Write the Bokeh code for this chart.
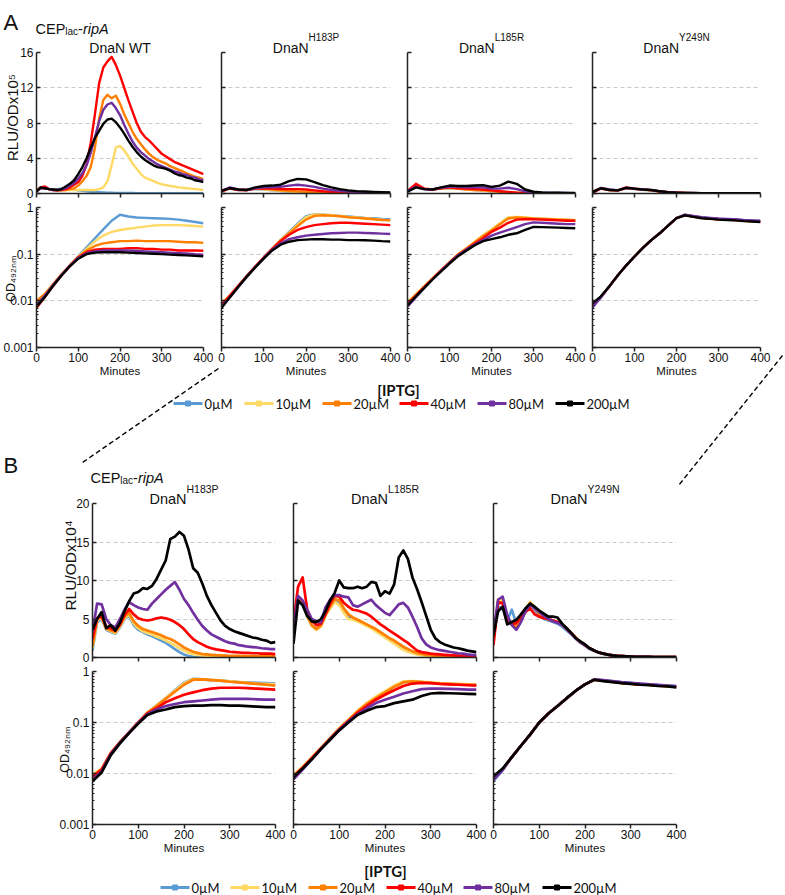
import math

from bokeh.core.properties import value
from bokeh.embed import file_html
from bokeh.layouts import column, row
from bokeh.models import CustomJSTickFormatter, FixedTicker, Range1d, Spacer
from bokeh.plotting import figure
from bokeh.resources import INLINE

# ---------------------------------------------------------------- data
MINUTES = [0, 10, 20, 30, 40, 50, 60, 70, 80, 90,
           100, 110, 120, 130, 140, 150, 160, 170, 180, 190,
           200, 210, 220, 230, 240, 250, 260, 270, 280, 290,
           300, 310, 320, 330, 340, 350, 360, 370, 380, 390, 400]
MINUTES_20 = [0, 20, 40, 60, 80, 100, 120, 140, 160, 180, 200,
              220, 240, 260, 280, 300, 320, 340, 360, 380, 400]

IPTG = ["0µM", "10µM", "20µM", "40µM", "80µM", "200µM"]
IPTG_COLORS = ["#5B9BD5", "#FFD966", "#FF7F00", "#FF0000", "#7030A0", "#000000"]

MINUTE_TICKS = [0, 100, 200, 300, 400]
RLU_TICKS_A = [0, 4, 8, 12, 16]
RLU_TICKS_B = [0, 5, 10, 15, 20]
OD_TICKS = [0.001, 0.01, 0.1, 1]

# ---- A: DnaN WT, luminescence (RLU/OD x10^5), every 10 min
wt_rlu_0 = [0.3, 0.6, 0.6, 0.5, 0.5, 0.5, 0.55, 0.6, 0.55, 0.45,
            0.35, 0.3, 0.25, 0.2, 0.17, 0.14, 0.12, 0.1, 0.08, 0.07,
            0.06, 0.05, 0.05, 0.05, 0.04, 0.04, 0.04, 0.04, 0.04, 0.03,
            0.03, 0.03, 0.03, 0.03, 0.03, 0.03, 0.03, 0.03, 0.03, 0.03, 0.03]
wt_rlu_10 = [0.4, 0.7, 0.6, 0.5, 0.45, 0.4, 0.4, 0.4, 0.4, 0.4,
             0.4, 0.4, 0.4, 0.4, 0.4, 0.5, 0.7, 1.4, 3.2, 5.2,
             5.4, 4.9, 4.2, 3.4, 2.8, 2.2, 1.8, 1.6, 1.4, 1.2,
             1.05, 0.95, 0.85, 0.8, 0.7, 0.65, 0.6, 0.55, 0.5, 0.45, 0.4]
wt_rlu_20 = [0.4, 0.6, 0.6, 0.5, 0.4, 0.35, 0.35, 0.4, 0.5, 0.6,
             0.9, 1.4, 2.0, 3.0, 5.2, 8.5, 10.6, 11.2, 10.8, 11.1,
             10.2, 9.0, 8.0, 7.0, 6.2, 5.6, 5.0, 4.5, 4.1, 3.8,
             3.6, 3.4, 3.1, 2.9, 2.7, 2.5, 2.3, 2.1, 1.9, 1.8, 1.6]
wt_rlu_40 = [0.2, 0.7, 0.8, 0.5, 0.4, 0.35, 0.4, 0.5, 0.7, 1.0,
             1.3, 2.0, 3.3, 5.8, 9.0, 12.5, 14.3, 15.0, 15.5, 14.6,
             13.4, 12.0, 10.6, 9.3, 8.0, 7.0, 6.4, 6.0, 5.5, 5.0,
             4.5, 4.2, 3.9, 3.6, 3.4, 3.2, 3.0, 2.8, 2.6, 2.4, 2.2]
wt_rlu_80 = [0.3, 0.6, 0.6, 0.5, 0.4, 0.4, 0.45, 0.6, 0.9, 1.2,
             1.7, 2.3, 3.2, 4.6, 6.4, 8.2, 9.5, 10.1, 10.3, 9.7,
             8.9, 7.8, 6.8, 5.9, 5.2, 4.7, 4.3, 3.9, 3.6, 3.3,
             3.1, 2.9, 2.7, 2.5, 2.4, 2.2, 2.1, 1.9, 1.8, 1.6, 1.5]
wt_rlu_200 = [0.2, 0.7, 0.6, 0.5, 0.45, 0.4, 0.5, 0.8, 1.1, 1.5,
              2.2, 3.0, 4.0, 5.2, 6.3, 7.1, 7.9, 8.4, 8.5, 8.1,
              7.5, 6.8, 6.0, 5.3, 4.7, 4.2, 3.8, 3.5, 3.2, 3.0,
              2.9, 2.8, 2.6, 2.3, 2.1, 2.0, 1.8, 1.7, 1.5, 1.4, 1.3]

# ---- A: DnaN WT, growth (OD492), every 20 min
wt_od_0 = [0.009, 0.013, 0.022, 0.036, 0.058, 0.09, 0.14, 0.22, 0.34, 0.52,
           0.70, 0.64, 0.61, 0.6, 0.59, 0.58, 0.57, 0.55, 0.52, 0.49, 0.46]
wt_od_10 = [0.0095, 0.014, 0.023, 0.037, 0.058, 0.088, 0.13, 0.19, 0.25, 0.30,
            0.33, 0.35, 0.37, 0.39, 0.41, 0.42, 0.42, 0.42, 0.41, 0.40, 0.39]
wt_od_20 = [0.010, 0.014, 0.023, 0.037, 0.058, 0.087, 0.12, 0.15, 0.17, 0.18,
            0.19, 0.19, 0.195, 0.19, 0.19, 0.19, 0.19, 0.185, 0.18, 0.18, 0.175]
wt_od_40 = [0.007, 0.012, 0.021, 0.035, 0.056, 0.085, 0.11, 0.125, 0.13, 0.13,
            0.13, 0.135, 0.135, 0.13, 0.13, 0.125, 0.125, 0.12, 0.12, 0.12, 0.118]
wt_od_80 = [0.008, 0.013, 0.022, 0.036, 0.057, 0.083, 0.105, 0.115, 0.12, 0.12,
            0.12, 0.12, 0.118, 0.115, 0.113, 0.11, 0.108, 0.105, 0.103, 0.1, 0.098]
wt_od_200 = [0.0075, 0.012, 0.021, 0.035, 0.055, 0.08, 0.1, 0.108, 0.11, 0.11,
             0.11, 0.108, 0.106, 0.104, 0.102, 0.1, 0.098, 0.096, 0.094, 0.092, 0.09]

# ---- A: DnaN H183P, luminescence every 20 min
a_h183p_rlu_0 = [0.3, 0.55, 0.4, 0.38, 0.5, 0.45, 0.35, 0.28, 0.2, 0.14,
                 0.09, 0.06, 0.04, 0.03, 0.03, 0.02, 0.02, 0.02, 0.02, 0.02, 0.02]
a_h183p_rlu_10 = [0.35, 0.6, 0.42, 0.4, 0.52, 0.48, 0.38, 0.3, 0.22, 0.16,
                  0.11, 0.07, 0.05, 0.04, 0.03, 0.03, 0.02, 0.02, 0.02, 0.02, 0.02]
a_h183p_rlu_20 = [0.3, 0.6, 0.42, 0.4, 0.55, 0.55, 0.45, 0.36, 0.3, 0.24,
                  0.18, 0.13, 0.09, 0.06, 0.05, 0.04, 0.03, 0.03, 0.03, 0.02, 0.02]
a_h183p_rlu_40 = [0.2, 0.6, 0.4, 0.4, 0.55, 0.6, 0.55, 0.5, 0.5, 0.5,
                  0.45, 0.35, 0.25, 0.18, 0.12, 0.08, 0.06, 0.05, 0.04, 0.03, 0.03]
a_h183p_rlu_80 = [0.3, 0.7, 0.45, 0.4, 0.6, 0.7, 0.7, 0.75, 0.9, 1.0,
                  0.9, 0.75, 0.55, 0.4, 0.3, 0.22, 0.18, 0.15, 0.12, 0.1, 0.08]
a_h183p_rlu_200 = [0.3, 0.6, 0.45, 0.4, 0.7, 0.85, 0.9, 1.0, 1.4, 1.65,
                   1.6, 1.3, 0.95, 0.7, 0.5, 0.35, 0.27, 0.22, 0.18, 0.15, 0.12]

a_h183p_od_0 = [0.0085, 0.013, 0.021, 0.034, 0.054, 0.085, 0.13, 0.2, 0.3, 0.45,
                0.65, 0.72, 0.7, 0.68, 0.66, 0.64, 0.62, 0.6, 0.59, 0.57, 0.56]
a_h183p_od_10 = [0.009, 0.013, 0.021, 0.034, 0.054, 0.085, 0.13, 0.2, 0.29, 0.43,
                 0.62, 0.71, 0.7, 0.68, 0.66, 0.63, 0.61, 0.59, 0.57, 0.55, 0.53]
a_h183p_od_20 = [0.0085, 0.013, 0.021, 0.034, 0.054, 0.085, 0.13, 0.2, 0.28, 0.4,
                 0.55, 0.66, 0.68, 0.67, 0.65, 0.62, 0.6, 0.58, 0.56, 0.54, 0.53]
a_h183p_od_40 = [0.008, 0.013, 0.021, 0.034, 0.054, 0.085, 0.13, 0.19, 0.26, 0.33,
                 0.38, 0.42, 0.44, 0.46, 0.47, 0.47, 0.46, 0.45, 0.44, 0.43, 0.42]
a_h183p_od_80 = [0.0075, 0.012, 0.02, 0.033, 0.053, 0.083, 0.125, 0.17, 0.21, 0.23,
                 0.25, 0.26, 0.27, 0.28, 0.285, 0.29, 0.29, 0.285, 0.28, 0.275, 0.27]
a_h183p_od_200 = [0.007, 0.012, 0.02, 0.033, 0.052, 0.08, 0.12, 0.16, 0.185, 0.2,
                  0.205, 0.21, 0.208, 0.205, 0.205, 0.2, 0.2, 0.198, 0.195, 0.19, 0.187]

# ---- A: DnaN L185R
a_l185r_rlu_0 = [0.3, 0.7, 0.5, 0.45, 0.6, 0.62, 0.55, 0.45, 0.4, 0.33,
                 0.25, 0.17, 0.1, 0.06, 0.04, 0.03, 0.02, 0.02, 0.02, 0.02, 0.02]
a_l185r_rlu_10 = [0.35, 0.75, 0.52, 0.45, 0.6, 0.65, 0.55, 0.47, 0.4, 0.33,
                  0.26, 0.18, 0.11, 0.07, 0.04, 0.03, 0.02, 0.02, 0.02, 0.02, 0.02]
a_l185r_rlu_20 = [0.3, 0.8, 0.55, 0.45, 0.6, 0.65, 0.55, 0.45, 0.4, 0.35,
                  0.28, 0.2, 0.12, 0.08, 0.05, 0.03, 0.03, 0.02, 0.02, 0.02, 0.02]
a_l185r_rlu_40 = [0.3, 1.1, 0.55, 0.45, 0.6, 0.7, 0.6, 0.55, 0.5, 0.45,
                  0.35, 0.25, 0.18, 0.1, 0.06, 0.04, 0.03, 0.03, 0.02, 0.02, 0.02]
a_l185r_rlu_80 = [0.3, 0.75, 0.5, 0.45, 0.65, 0.8, 0.75, 0.7, 0.7, 0.7,
                  0.55, 0.55, 0.65, 0.5, 0.25, 0.12, 0.08, 0.06, 0.05, 0.05, 0.04]
a_l185r_rlu_200 = [0.2, 0.7, 0.5, 0.45, 0.7, 0.9, 0.85, 0.85, 0.9, 0.95,
                   0.75, 0.9, 1.35, 1.1, 0.45, 0.2, 0.12, 0.1, 0.08, 0.07, 0.06]

a_l185r_od_0 = [0.0085, 0.0135, 0.02, 0.03, 0.045, 0.066, 0.097, 0.13, 0.18, 0.25,
                0.33, 0.45, 0.6, 0.62, 0.6, 0.58, 0.57, 0.56, 0.55, 0.54, 0.53]
a_l185r_od_10 = [0.0095, 0.014, 0.021, 0.031, 0.046, 0.068, 0.1, 0.135, 0.185, 0.255,
                 0.34, 0.46, 0.62, 0.63, 0.61, 0.59, 0.58, 0.57, 0.56, 0.55, 0.54]
a_l185r_od_20 = [0.009, 0.0135, 0.02, 0.03, 0.045, 0.066, 0.097, 0.13, 0.18, 0.245,
                 0.32, 0.44, 0.58, 0.61, 0.6, 0.58, 0.57, 0.56, 0.55, 0.54, 0.53]
a_l185r_od_40 = [0.0085, 0.013, 0.02, 0.03, 0.045, 0.066, 0.096, 0.128, 0.17, 0.22,
                 0.3, 0.37, 0.47, 0.55, 0.56, 0.56, 0.55, 0.54, 0.53, 0.52, 0.52]
a_l185r_od_80 = [0.0075, 0.012, 0.019, 0.029, 0.044, 0.065, 0.094, 0.125, 0.16, 0.2,
                 0.25, 0.29, 0.33, 0.38, 0.44, 0.48, 0.47, 0.46, 0.45, 0.44, 0.44]
a_l185r_od_200 = [0.008, 0.0125, 0.019, 0.029, 0.043, 0.063, 0.09, 0.118, 0.155, 0.19,
                  0.21, 0.23, 0.26, 0.28, 0.33, 0.385, 0.38, 0.375, 0.37, 0.365, 0.36]

# ---- A: DnaN Y249N
a_y249n_rlu_0 = [0.2, 0.55, 0.5, 0.35, 0.6, 0.5, 0.42, 0.35, 0.22, 0.13,
                 0.08, 0.05, 0.04, 0.04, 0.03, 0.03, 0.03, 0.03, 0.02, 0.02, 0.02]
a_y249n_rlu_10 = [0.25, 0.6, 0.42, 0.35, 0.62, 0.5, 0.42, 0.36, 0.22, 0.13,
                  0.08, 0.05, 0.04, 0.04, 0.03, 0.03, 0.03, 0.03, 0.02, 0.02, 0.02]
a_y249n_rlu_20 = [0.2, 0.6, 0.4, 0.33, 0.6, 0.52, 0.44, 0.37, 0.23, 0.14,
                  0.09, 0.05, 0.04, 0.04, 0.03, 0.03, 0.03, 0.03, 0.02, 0.02, 0.02]
a_y249n_rlu_40 = [0.1, 0.55, 0.4, 0.35, 0.68, 0.55, 0.45, 0.38, 0.24, 0.14,
                  0.09, 0.06, 0.04, 0.04, 0.03, 0.03, 0.03, 0.03, 0.03, 0.02, 0.02]
a_y249n_rlu_80 = [0.2, 0.62, 0.45, 0.36, 0.62, 0.53, 0.45, 0.38, 0.24, 0.15,
                  0.09, 0.06, 0.05, 0.04, 0.04, 0.03, 0.03, 0.03, 0.03, 0.03, 0.03]
a_y249n_rlu_200 = [0.15, 0.6, 0.4, 0.35, 0.65, 0.55, 0.45, 0.4, 0.25, 0.15,
                   0.1, 0.06, 0.05, 0.04, 0.04, 0.03, 0.03, 0.03, 0.03, 0.03, 0.03]

a_y249n_od_0 = [0.0075, 0.012, 0.0204, 0.035, 0.057, 0.089, 0.136, 0.2, 0.28, 0.41,
                0.59, 0.69, 0.65, 0.61, 0.59, 0.57, 0.56, 0.55, 0.53, 0.52, 0.51]
a_y249n_od_10 = [0.0078, 0.0121, 0.0204, 0.035, 0.057, 0.089, 0.136, 0.2, 0.28, 0.41,
                 0.59, 0.69, 0.64, 0.6, 0.58, 0.56, 0.55, 0.54, 0.52, 0.51, 0.5]
a_y249n_od_20 = [0.008, 0.0122, 0.0204, 0.035, 0.057, 0.089, 0.136, 0.2, 0.28, 0.41,
                 0.59, 0.69, 0.64, 0.6, 0.58, 0.56, 0.55, 0.54, 0.52, 0.51, 0.5]
a_y249n_od_40 = [0.0079, 0.0121, 0.0204, 0.035, 0.057, 0.089, 0.136, 0.2, 0.28, 0.41,
                 0.59, 0.69, 0.64, 0.6, 0.58, 0.56, 0.55, 0.54, 0.52, 0.51, 0.5]
a_y249n_od_80 = [0.0072, 0.0118, 0.0204, 0.035, 0.057, 0.089, 0.136, 0.2, 0.28, 0.41,
                 0.59, 0.7, 0.66, 0.62, 0.6, 0.58, 0.57, 0.56, 0.54, 0.53, 0.52]
a_y249n_od_200 = [0.0088, 0.0125, 0.0204, 0.035, 0.057, 0.089, 0.136, 0.2, 0.28, 0.41,
                  0.59, 0.68, 0.63, 0.59, 0.57, 0.55, 0.54, 0.53, 0.51, 0.5, 0.49]

# ---- B: DnaN H183P, luminescence (RLU/OD x10^4), every 10 min
b_h183p_rlu_0 = [0.9, 4.6, 5.0, 3.6, 3.3, 3.1, 3.9, 5.0, 5.4, 4.2,
                 3.6, 3.3, 3.0, 2.8, 2.5, 2.2, 1.9, 1.5, 1.1, 0.7,
                 0.4, 0.2, 0.1, 0.05, 0.04, 0.03, 0.03, 0.02, 0.02, 0.02,
                 0.02, 0.02, 0.01, 0.01, 0.01, 0.01, 0.01, 0.01, 0.01, 0.01, 0.01]
b_h183p_rlu_10 = [1.2, 4.8, 5.2, 3.7, 3.4, 3.2, 4.0, 5.1, 5.6, 4.4,
                  3.8, 3.4, 3.2, 3.0, 2.7, 2.5, 2.2, 1.9, 1.6, 1.2,
                  0.9, 0.6, 0.45, 0.35, 0.28, 0.22, 0.18, 0.15, 0.13, 0.12,
                  0.1, 0.1, 0.09, 0.08, 0.08, 0.07, 0.07, 0.06, 0.06, 0.06, 0.05]
b_h183p_rlu_20 = [1.5, 5.0, 5.3, 3.8, 3.5, 3.3, 4.2, 5.3, 5.8, 4.7,
                  4.1, 3.7, 3.5, 3.3, 3.1, 2.9, 2.6, 2.4, 2.1, 1.7,
                  1.3, 1.0, 0.75, 0.6, 0.45, 0.4, 0.35, 0.3, 0.28, 0.25,
                  0.22, 0.2, 0.2, 0.18, 0.18, 0.17, 0.16, 0.15, 0.15, 0.14, 0.14]
b_h183p_rlu_40 = [2.4, 5.1, 5.4, 4.0, 3.8, 3.5, 4.3, 5.5, 6.3, 5.6,
                  5.1, 4.9, 4.8, 4.9, 5.1, 5.2, 5.1, 4.9, 4.6, 4.2,
                  3.7, 3.0, 2.4, 2.0, 1.7, 1.4, 1.2, 1.05, 0.95, 0.85,
                  0.75, 0.7, 0.65, 0.6, 0.6, 0.55, 0.55, 0.5, 0.5, 0.5, 0.45]
b_h183p_rlu_80 = [3.3, 7.0, 6.9, 5.0, 4.2, 3.9, 5.0, 6.2, 7.2, 6.8,
                  6.5, 6.3, 6.2, 7.0, 7.6, 8.2, 8.8, 9.3, 9.8, 8.8,
                  7.6, 6.8, 5.8, 4.9, 4.1, 3.5, 3.0, 2.7, 2.4, 2.1,
                  1.9, 1.8, 1.6, 1.5, 1.4, 1.35, 1.3, 1.2, 1.15, 1.1, 1.1]
b_h183p_rlu_200 = [3.6, 5.0, 5.9, 3.8, 4.2, 3.5, 4.5, 6.0, 7.3, 8.3,
                   8.5, 9.0, 8.9, 9.3, 10.2, 11.4, 12.6, 15.4, 15.7, 16.3,
                   15.8, 14.0, 11.6, 11.0, 9.6, 8.0, 6.8, 5.8, 4.8, 4.1,
                   3.7, 3.4, 3.2, 3.0, 2.8, 2.6, 2.5, 2.3, 2.2, 1.9, 2.0]

b_h183p_od_0 = [0.0085, 0.012, 0.025, 0.041, 0.064, 0.1, 0.155, 0.215, 0.3, 0.43,
                0.6, 0.72, 0.7, 0.68, 0.66, 0.64, 0.62, 0.61, 0.6, 0.59, 0.58]
b_h183p_od_10 = [0.0095, 0.0125, 0.025, 0.041, 0.064, 0.1, 0.155, 0.215, 0.3, 0.42,
                 0.58, 0.71, 0.7, 0.68, 0.66, 0.64, 0.62, 0.6, 0.58, 0.57, 0.56]
b_h183p_od_20 = [0.009, 0.012, 0.025, 0.041, 0.064, 0.1, 0.155, 0.21, 0.29, 0.4,
                 0.55, 0.69, 0.7, 0.68, 0.66, 0.63, 0.61, 0.59, 0.57, 0.55, 0.53]
b_h183p_od_40 = [0.0085, 0.012, 0.025, 0.041, 0.064, 0.1, 0.15, 0.19, 0.25, 0.3,
                 0.35, 0.39, 0.43, 0.46, 0.48, 0.48, 0.48, 0.47, 0.46, 0.45, 0.44]
b_h183p_od_80 = [0.0075, 0.011, 0.024, 0.04, 0.063, 0.098, 0.145, 0.18, 0.21, 0.23,
                 0.25, 0.26, 0.27, 0.28, 0.29, 0.29, 0.29, 0.29, 0.285, 0.28, 0.28]
b_h183p_od_200 = [0.007, 0.0105, 0.023, 0.039, 0.062, 0.095, 0.14, 0.165, 0.18, 0.2,
                  0.21, 0.215, 0.215, 0.22, 0.22, 0.215, 0.215, 0.21, 0.205, 0.2, 0.2]

# ---- B: DnaN L185R
b_l185r_rlu_0 = [3.0, 7.1, 6.9, 5.3, 4.2, 3.7, 4.1, 5.5, 6.5, 7.3,
                 7.0, 6.0, 5.3, 5.0, 4.8, 4.5, 4.2, 3.9, 3.6, 3.2,
                 2.8, 2.4, 2.0, 1.6, 1.2, 0.9, 0.65, 0.45, 0.35, 0.28,
                 0.22, 0.18, 0.15, 0.13, 0.11, 0.1, 0.09, 0.08, 0.07, 0.06, 0.05]
b_l185r_rlu_10 = [2.8, 7.3, 7.0, 5.4, 4.1, 3.6, 4.0, 5.4, 6.4, 7.2,
                  6.8, 5.8, 5.0, 4.9, 4.7, 4.4, 4.1, 3.8, 3.4, 3.0,
                  2.6, 2.2, 1.8, 1.4, 1.0, 0.75, 0.55, 0.4, 0.3, 0.25,
                  0.2, 0.17, 0.15, 0.13, 0.12, 0.1, 0.09, 0.08, 0.07, 0.07, 0.06]
b_l185r_rlu_20 = [3.1, 7.7, 7.2, 5.5, 4.2, 3.7, 4.2, 5.6, 6.6, 7.6,
                  7.4, 6.4, 5.6, 5.2, 4.9, 4.6, 4.3, 4.0, 3.7, 3.3,
                  2.9, 2.5, 2.2, 1.8, 1.4, 1.1, 0.8, 0.6, 0.45, 0.35,
                  0.3, 0.25, 0.22, 0.2, 0.18, 0.15, 0.13, 0.12, 0.11, 0.1, 0.1]
b_l185r_rlu_40 = [4.6, 9.2, 10.4, 6.2, 4.8, 4.2, 4.4, 5.6, 7.0, 8.0,
                  7.9, 7.1, 6.6, 6.2, 6.1, 5.9, 5.7, 5.3, 4.8, 4.3,
                  3.9, 3.5, 3.1, 2.7, 2.3, 1.9, 1.4, 0.9, 0.7, 0.6,
                  0.5, 0.45, 0.4, 0.35, 0.3, 0.28, 0.25, 0.22, 0.2, 0.17, 0.15]
b_l185r_rlu_80 = [3.7, 8.0, 7.4, 6.2, 5.0, 4.7, 4.6, 6.5, 7.5, 8.1,
                  8.1, 7.9, 7.8, 6.8, 6.6, 6.9, 7.2, 7.5, 6.8, 6.3,
                  5.8, 5.5, 6.2, 6.9, 7.1, 6.5, 5.3, 4.0, 2.5, 1.7,
                  1.3, 1.1, 0.95, 0.85, 0.75, 0.65, 0.55, 0.5, 0.4, 0.35, 0.3]
b_l185r_rlu_200 = [1.8, 7.4, 6.8, 5.4, 4.7, 4.6, 5.0, 6.0, 7.4, 8.4,
                   10.0, 9.1, 9.0, 9.0, 9.2, 9.0, 9.2, 9.8, 9.7, 8.0,
                   8.6, 8.3, 9.5, 13.0, 13.9, 12.8, 10.4, 8.9, 7.2, 5.4,
                   3.6, 2.5, 2.0, 1.7, 1.5, 1.3, 1.2, 1.05, 0.9, 0.8, 0.7]

b_l185r_od_0 = [0.0088, 0.013, 0.02, 0.031, 0.048, 0.075, 0.11, 0.165, 0.23, 0.3,
                0.39, 0.51, 0.62, 0.64, 0.62, 0.6, 0.58, 0.57, 0.56, 0.55, 0.55]
b_l185r_od_10 = [0.0095, 0.0135, 0.021, 0.032, 0.05, 0.078, 0.115, 0.17, 0.24, 0.32,
                 0.41, 0.53, 0.64, 0.65, 0.63, 0.61, 0.59, 0.58, 0.57, 0.56, 0.55]
b_l185r_od_20 = [0.009, 0.013, 0.02, 0.031, 0.048, 0.075, 0.11, 0.165, 0.23, 0.3,
                 0.39, 0.5, 0.61, 0.64, 0.62, 0.6, 0.58, 0.57, 0.56, 0.55, 0.55]
b_l185r_od_40 = [0.0088, 0.013, 0.02, 0.031, 0.048, 0.074, 0.108, 0.155, 0.21, 0.28,
                 0.35, 0.43, 0.52, 0.58, 0.6, 0.59, 0.57, 0.56, 0.55, 0.54, 0.53]
b_l185r_od_80 = [0.0077, 0.012, 0.019, 0.03, 0.047, 0.072, 0.104, 0.145, 0.19, 0.24,
                 0.28, 0.32, 0.37, 0.41, 0.45, 0.46, 0.46, 0.455, 0.45, 0.44, 0.44]
b_l185r_od_200 = [0.0085, 0.0125, 0.019, 0.03, 0.046, 0.07, 0.1, 0.14, 0.17, 0.2,
                  0.21, 0.24, 0.26, 0.28, 0.33, 0.37, 0.38, 0.375, 0.37, 0.365, 0.36]

# ---- B: DnaN Y249N
b_y249n_rlu_0 = [2.6, 6.6, 6.4, 4.8, 6.2, 4.4, 5.0, 6.2, 7.1, 6.2,
                 5.4, 5.0, 4.8, 4.6, 4.4, 4.0, 3.5, 3.0, 2.4, 1.9,
                 1.5, 1.1, 0.85, 0.62, 0.48, 0.36, 0.27, 0.21, 0.17, 0.14,
                 0.11, 0.1, 0.09, 0.08, 0.07, 0.06, 0.05, 0.05, 0.04, 0.04, 0.04]
b_y249n_rlu_10 = [2.4, 7.6, 7.3, 5.0, 4.4, 4.2, 5.0, 6.2, 7.2, 6.5,
                  5.8, 5.3, 5.0, 4.8, 4.6, 4.2, 3.7, 3.1, 2.5, 2.0,
                  1.6, 1.2, 0.9, 0.65, 0.5, 0.38, 0.28, 0.22, 0.18, 0.15,
                  0.12, 0.1, 0.09, 0.08, 0.07, 0.06, 0.05, 0.05, 0.04, 0.04, 0.04]
b_y249n_rlu_20 = [2.2, 7.0, 7.2, 5.0, 4.3, 4.1, 4.9, 6.0, 7.1, 6.4,
                  5.7, 5.2, 4.9, 4.8, 4.6, 4.3, 3.8, 3.2, 2.6, 2.0,
                  1.6, 1.2, 0.9, 0.66, 0.5, 0.38, 0.28, 0.22, 0.18, 0.15,
                  0.12, 0.1, 0.09, 0.08, 0.07, 0.06, 0.05, 0.05, 0.04, 0.04, 0.04]
b_y249n_rlu_40 = [1.6, 7.2, 7.0, 5.0, 4.3, 4.5, 5.2, 5.9, 6.4, 5.6,
                  5.3, 5.1, 5.0, 4.8, 4.6, 4.3, 3.7, 3.1, 2.5, 2.0,
                  1.6, 1.2, 0.9, 0.65, 0.5, 0.38, 0.28, 0.22, 0.18, 0.15,
                  0.12, 0.1, 0.09, 0.08, 0.07, 0.06, 0.05, 0.05, 0.04, 0.04, 0.04]
b_y249n_rlu_80 = [3.3, 7.5, 7.9, 5.5, 4.2, 3.6, 4.6, 6.0, 6.9, 6.4,
                  5.9, 5.4, 5.0, 4.7, 4.5, 4.2, 3.7, 3.1, 2.5, 2.0,
                  1.6, 1.2, 0.9, 0.66, 0.5, 0.38, 0.28, 0.22, 0.18, 0.15,
                  0.12, 0.1, 0.09, 0.08, 0.07, 0.06, 0.05, 0.05, 0.04, 0.04, 0.04]
b_y249n_rlu_200 = [2.9, 6.0, 6.6, 4.3, 4.6, 4.9, 5.6, 6.4, 7.0, 6.6,
                   6.1, 5.7, 5.3, 5.3, 5.2, 4.4, 3.8, 3.2, 2.5, 2.1,
                   1.7, 1.2, 0.9, 0.65, 0.5, 0.38, 0.28, 0.22, 0.18, 0.15,
                   0.12, 0.1, 0.09, 0.08, 0.07, 0.06, 0.05, 0.05, 0.04, 0.04, 0.04]

b_y249n_od_0 = [0.0072, 0.0115, 0.021, 0.035, 0.058, 0.1, 0.15, 0.21, 0.3, 0.42,
                0.56, 0.69, 0.67, 0.64, 0.61, 0.59, 0.57, 0.56, 0.54, 0.53, 0.51]
b_y249n_od_10 = [0.0078, 0.012, 0.021, 0.035, 0.058, 0.1, 0.15, 0.21, 0.3, 0.42,
                 0.56, 0.69, 0.66, 0.63, 0.6, 0.58, 0.56, 0.55, 0.53, 0.52, 0.5]
b_y249n_od_20 = [0.008, 0.012, 0.021, 0.035, 0.058, 0.1, 0.15, 0.21, 0.3, 0.42,
                 0.56, 0.69, 0.66, 0.63, 0.6, 0.58, 0.56, 0.55, 0.53, 0.52, 0.5]
b_y249n_od_40 = [0.0079, 0.012, 0.021, 0.035, 0.058, 0.1, 0.15, 0.21, 0.3, 0.42,
                 0.56, 0.69, 0.66, 0.63, 0.6, 0.58, 0.56, 0.55, 0.53, 0.52, 0.5]
b_y249n_od_80 = [0.0075, 0.0118, 0.021, 0.035, 0.058, 0.1, 0.15, 0.21, 0.3, 0.42,
                 0.56, 0.7, 0.68, 0.65, 0.62, 0.6, 0.58, 0.56, 0.55, 0.53, 0.52]
b_y249n_od_200 = [0.0088, 0.0125, 0.021, 0.035, 0.058, 0.1, 0.15, 0.21, 0.3, 0.42,
                  0.56, 0.69, 0.65, 0.62, 0.59, 0.57, 0.55, 0.54, 0.52, 0.51, 0.49]

# ---------------------------------------------------------------- styling
FONT = "Liberation Sans"
LEGEND_FONT = "Lato"
TEXT = "#111111"
AXIS = "#222222"
PAGE_W, PAGE_H = 785, 895

# page geometry: (figure left, frame left, frame right, figure right)
A_COLS = [(0, 36, 203, 213), (213, 221, 390, 401), (401, 407, 575, 586), (586, 592, 760, 785)]
B_COLS = [(0, 92, 275, 287), (287, 293, 476, 487), (487, 493, 676, 785)]
# (figure top, frame top, frame bottom, figure bottom)
A_RLU_ROW = (0, 52, 193, 200)
A_OD_ROW = (200, 207, 347, 382)
B_RLU_ROW = (445, 503, 657, 664)
B_OD_ROW = (664, 671, 824, 856)
MID_GAP = 445 - 382
FOOT_GAP = PAGE_H - 856

# dashed connectors from panel A (H183P..Y249N) down to panel B
LINKS = [(218, 368, 82, 462), (782, 355, 678, 485)]

# Arial-compatible advance widths (em) for laying out mixed-size labels
ADV = {"A": .667, "B": .667, "C": .722, "D": .722, "E": .667, "H": .722, "L": .556,
       "N": .722, "O": .778, "P": .667, "R": .722, "T": .611, "U": .722, "W": .944,
       "Y": .667, "a": .556, "c": .5, "i": .222, "l": .222, "m": .833, "n": .556,
       "p": .556, "r": .333, "x": .5, "-": .333, "/": .278, " ": .278}


def text_w(s, size):
    return size * sum(ADV.get(ch, .556) for ch in s)


def make_plot(cols, rows, y_range, log_y, y_ticks, y_labels, x_labels, tick_px):
    fl, frl, frr, fr = cols
    ft, frt, frb, fb = rows
    p = figure(width=fr - fl, height=fb - ft, title=None,
               x_range=Range1d(0, 400), y_range=Range1d(*y_range),
               y_axis_type="log" if log_y else "linear",
               output_backend="svg", toolbar_location=None,
               min_border_left=frl - fl, min_border_right=fr - frr,
               min_border_top=frt - ft, min_border_bottom=fb - frb)
    p.outline_line_color = None
    p.background_fill_color = "white"
    p.border_fill_color = "white"
    p.xgrid.visible = False

    minor = [d * k for d in y_ticks[:-1] for k in range(2, 10)] if log_y else []
    p.yaxis.ticker = FixedTicker(ticks=y_ticks, minor_ticks=minor)
    p.ygrid.ticker = FixedTicker(ticks=y_ticks[1:])
    p.ygrid.grid_line_color = "#c8c8c8"
    p.ygrid.grid_line_dash = "4 3"
    p.ygrid.grid_line_width = 1
    p.xaxis.ticker = FixedTicker(ticks=MINUTE_TICKS)

    xa, ya = p.xaxis[0], p.yaxis[0]
    for ax in (xa, ya):
        ax.axis_line_color = AXIS
        ax.axis_line_width = 1.5
        ax.major_tick_line_color = AXIS
        ax.major_tick_line_width = 1.5
        ax.minor_tick_line_color = AXIS
        ax.minor_tick_line_width = 1
        ax.major_label_text_font = FONT
        ax.major_label_text_color = TEXT
        ax.major_label_text_font_size = f"{tick_px}px"
    xa.major_tick_in, xa.major_tick_out = 0, 4
    xa.minor_tick_in, xa.minor_tick_out = 0, 0
    ya.major_tick_in, ya.major_tick_out = 4, 0
    ya.minor_tick_in, ya.minor_tick_out = 2, 0
    if log_y:
        ya.formatter = CustomJSTickFormatter(code="return String(tick);")
    if y_labels:
        ya.major_label_standoff = 3
    else:
        # ticks only: labels take no room and are not painted
        ya.major_label_text_font_size = "0px"
        ya.major_label_text_color = None
        ya.major_label_standoff = 0
    if x_labels:
        xa.major_label_standoff = 1
        xa.axis_label = "Minutes"
        xa.axis_label_text_font = FONT
        xa.axis_label_text_font_size = "11.5px"
        xa.axis_label_text_font_style = "normal"
        xa.axis_label_text_color = TEXT
        xa.axis_label_standoff = 0
    else:
        xa.major_label_text_font_size = "0px"
        xa.major_label_text_color = None
        xa.major_label_standoff = 0
    return p


def draw_series(p, t, series, width):
    for ys, col in zip(series, IPTG_COLORS):
        p.line(t, ys, line_color=col, line_width=width, line_join="round")


# Transparent sheet laid over the whole page in page pixels (origin bottom-left),
# carrying panel letters, titles, axis titles, legends and the dashed connectors.
overlay = figure(width=PAGE_W, height=PAGE_H, title=None,
                 x_range=Range1d(0, PAGE_W), y_range=Range1d(0, PAGE_H),
                 output_backend="svg", toolbar_location=None, min_border=0,
                 x_axis_location=None, y_axis_location=None,
                 stylesheets=[":host { position: absolute !important; left: 0px !important;"
                              " top: 0px !important; z-index: 10; pointer-events: none; }"])
overlay.outline_line_color = None
overlay.background_fill_color = None
overlay.border_fill_color = None
overlay.grid.visible = False


def up(y):
    """Page y (measured from the top) to overlay data y."""
    return PAGE_H - y


def rich_text(x, y, parts, align="left"):
    """Runs of (text, size, raise, style) starting at page point (x, y) on the baseline."""
    total = sum(text_w(t, s) for t, s, _, _ in parts)
    pos = (x - total / 2) if align == "center" else x
    for t, s, shift, style in parts:
        overlay.text(x=[pos], y=[up(y - shift)], text=[t],
                     text_font=value(FONT), text_font_size=value(f"{s}px"),
                     text_font_style=value(style), text_color=TEXT,
                     text_align=value("left"), text_baseline=value("alphabetic"))
        pos += text_w(t, s)


def axis_title(cx, cy, text, size):
    """Vertical axis title centred on page point (cx, cy), reading bottom-to-top."""
    overlay.text(x=[cx], y=[up(cy)], text=[text], angle=math.pi / 2,
                 text_font=value(FONT), text_font_size=value(f"{size}px"), text_color=TEXT,
                 text_align=value("center"), text_baseline=value("middle"))


def draw_legend(title_x, title_y, row_y, starts):
    overlay.text(x=[title_x], y=[up(title_y)], text=["[IPTG]"], text_font=value(LEGEND_FONT),
                 text_font_style=value("bold"), text_font_size=value("15px"),
                 text_align=value("center"), text_baseline=value("middle"), text_color=TEXT)
    for x0, lab, col in zip(starts, IPTG, IPTG_COLORS):
        overlay.segment(x0=[x0], y0=[up(row_y)], x1=[x0 + 29], y1=[up(row_y)],
                        line_color=col, line_width=3)
        overlay.scatter(x=[x0 + 14.5], y=[up(row_y)], marker="square", size=5, color=col)
        overlay.text(x=[x0 + 31], y=[up(row_y)], text=[lab], text_font=value(LEGEND_FONT),
                     text_font_size=value("13px"), text_align=value("left"),
                     text_baseline=value("middle"), text_color=TEXT)


def cep_parts(size):
    return [("CEP", size, 0, "normal"), ("lac", 10, -3, "normal"),
            ("-", size, 0, "normal"), ("ripA", size, 0, "italic")]


def title_parts(allele, size, sup):
    if allele == "WT":
        return [("DnaN WT", size, 0, "normal")]
    return [("DnaN", size, 0, "normal"), (allele, sup, 10, "normal")]


# ---------------------------------------------------------------- panels
A_PANELS = [
    ("WT", MINUTES, [wt_rlu_0, wt_rlu_10, wt_rlu_20, wt_rlu_40, wt_rlu_80, wt_rlu_200],
     [wt_od_0, wt_od_10, wt_od_20, wt_od_40, wt_od_80, wt_od_200]),
    ("H183P", MINUTES_20, [a_h183p_rlu_0, a_h183p_rlu_10, a_h183p_rlu_20, a_h183p_rlu_40,
                           a_h183p_rlu_80, a_h183p_rlu_200],
     [a_h183p_od_0, a_h183p_od_10, a_h183p_od_20, a_h183p_od_40, a_h183p_od_80, a_h183p_od_200]),
    ("L185R", MINUTES_20, [a_l185r_rlu_0, a_l185r_rlu_10, a_l185r_rlu_20, a_l185r_rlu_40,
                           a_l185r_rlu_80, a_l185r_rlu_200],
     [a_l185r_od_0, a_l185r_od_10, a_l185r_od_20, a_l185r_od_40, a_l185r_od_80, a_l185r_od_200]),
    ("Y249N", MINUTES_20, [a_y249n_rlu_0, a_y249n_rlu_10, a_y249n_rlu_20, a_y249n_rlu_40,
                           a_y249n_rlu_80, a_y249n_rlu_200],
     [a_y249n_od_0, a_y249n_od_10, a_y249n_od_20, a_y249n_od_40, a_y249n_od_80, a_y249n_od_200]),
]
B_PANELS = [
    ("H183P", [b_h183p_rlu_0, b_h183p_rlu_10, b_h183p_rlu_20, b_h183p_rlu_40,
               b_h183p_rlu_80, b_h183p_rlu_200],
     [b_h183p_od_0, b_h183p_od_10, b_h183p_od_20, b_h183p_od_40, b_h183p_od_80, b_h183p_od_200]),
    ("L185R", [b_l185r_rlu_0, b_l185r_rlu_10, b_l185r_rlu_20, b_l185r_rlu_40,
               b_l185r_rlu_80, b_l185r_rlu_200],
     [b_l185r_od_0, b_l185r_od_10, b_l185r_od_20, b_l185r_od_40, b_l185r_od_80, b_l185r_od_200]),
    ("Y249N", [b_y249n_rlu_0, b_y249n_rlu_10, b_y249n_rlu_20, b_y249n_rlu_40,
               b_y249n_rlu_80, b_y249n_rlu_200],
     [b_y249n_od_0, b_y249n_od_10, b_y249n_od_20, b_y249n_od_40, b_y249n_od_80, b_y249n_od_200]),
]

# panel A
a_rlu_figs, a_od_figs = [], []
for i, ((allele, t_rlu, rlu, od), cols) in enumerate(zip(A_PANELS, A_COLS)):
    first = i == 0
    fl, frl, frr, fr = cols
    p = make_plot(cols, A_RLU_ROW, (0, 16), False, RLU_TICKS_A, first, False, 12)
    draw_series(p, t_rlu, rlu, 2.4)
    a_rlu_figs.append(p)
    rich_text((frl + frr) / 2, 47, title_parts(allele, 14, 10), align="center")

    q = make_plot(cols, A_OD_ROW, (0.001, 1), True, OD_TICKS, first, True, 12)
    draw_series(q, MINUTES_20, od, 2.4)
    a_od_figs.append(q)

rich_text(3, 22, [("A", 22, 0, "normal")])
rich_text(35, 28, cep_parts(14.5))
axis_title(12, 117, "RLU/ODx10\u2075", 15)
axis_title(10, 278, "OD\u2084\u2089\u2082\u2099\u2098", 12.5)
draw_legend(398, 389, 403, [173, 244, 322, 399, 477, 555])

# panel B
b_rlu_figs, b_od_figs = [], []
for i, ((allele, rlu, od), cols) in enumerate(zip(B_PANELS, B_COLS)):
    first = i == 0
    fl, frl, frr, fr = cols
    p = make_plot(cols, B_RLU_ROW, (0, 20), False, RLU_TICKS_B, first, False, 12)
    draw_series(p, MINUTES, rlu, 2.7)
    b_rlu_figs.append(p)
    rich_text((frl + frr) / 2, 498, title_parts(allele, 14.5, 10.5), align="center")

    q = make_plot(cols, B_OD_ROW, (0.001, 1), True, OD_TICKS, first, True, 12)
    draw_series(q, MINUTES_20, od, 2.7)
    b_od_figs.append(q)

rich_text(3, 465, [("B", 22, 0, "normal")])
rich_text(90, 477, cep_parts(14.5))
axis_title(70, 565, "RLU/ODx10\u2074", 15.5)
axis_title(64, 749, "OD\u2084\u2089\u2082\u2099\u2098", 12.5)
draw_legend(385, 870, 887, [160, 230, 308, 386, 463, 542])

for x0, y0, x1, y1 in LINKS:
    overlay.segment(x0=[x0], y0=[up(y0)], x1=[x1], y1=[up(y1)], line_color="black",
                    line_width=1.4, line_dash="5 3")

page = column(row(*a_rlu_figs), row(*a_od_figs), Spacer(width=PAGE_W, height=MID_GAP),
              row(*b_rlu_figs), row(*b_od_figs), Spacer(width=PAGE_W, height=FOOT_GAP),
              overlay)

with open("out.html", "w") as f:
    f.write(file_html(page, INLINE))
